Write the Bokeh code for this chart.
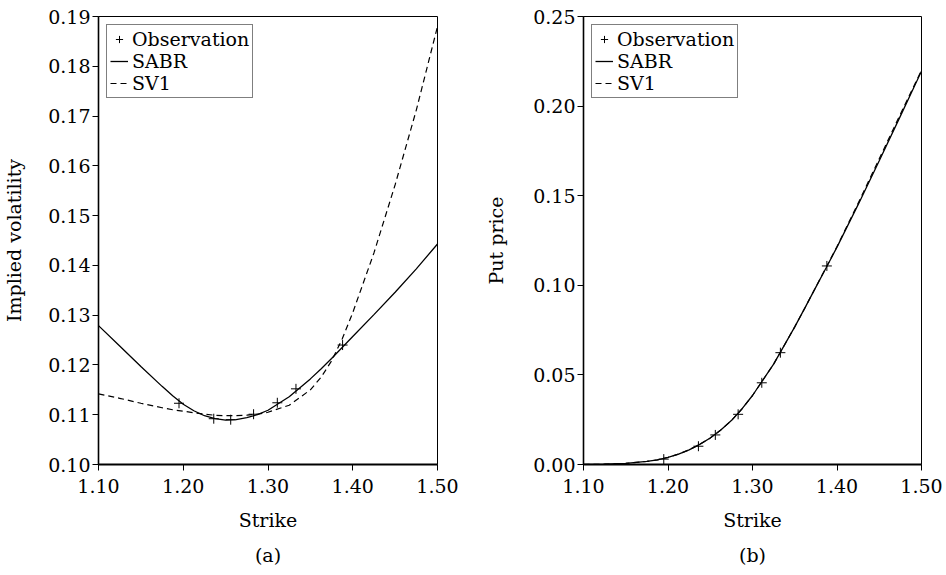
from bokeh.plotting import figure
from bokeh.layouts import row
from bokeh.models import Range1d, FixedTicker, NumeralTickFormatter, Title
from bokeh.embed import file_html
from bokeh.resources import INLINE

# ---- data ----
strike_grid = [1.100, 1.125, 1.150, 1.175, 1.1875, 1.200, 1.2125, 1.225, 1.2375, 1.250,
               1.2625, 1.275, 1.2875, 1.300, 1.325, 1.350, 1.3625, 1.375, 1.3875, 1.400,
               1.425, 1.450, 1.475, 1.500]
vol_sabr = [0.1279, 0.1238, 0.1197, 0.1157, 0.1138, 0.1121, 0.1108, 0.1098, 0.1092, 0.1089,
            0.1090, 0.1094, 0.1100, 0.1109, 0.1136, 0.1172, 0.1192, 0.1213, 0.1235, 0.1257,
            0.1301, 0.1346, 0.1393, 0.1443]
vol_sv1 = [0.1142, 0.1133, 0.1123, 0.1114, 0.1110, 0.1107, 0.1104, 0.1101, 0.1099, 0.1098,
           0.1098, 0.1099, 0.1101, 0.1105, 0.1119, 0.1150, 0.1175, 0.1208, 0.1252, 0.1305,
           0.1425, 0.1562, 0.1712, 0.1880]
put_sabr = [0.0000, 0.0002, 0.0006, 0.0017, 0.0026, 0.0040, 0.0058, 0.0082, 0.0112, 0.0148,
            0.0193, 0.0245, 0.0310, 0.0385, 0.0560, 0.0768, 0.0878, 0.0990, 0.1101, 0.1213,
            0.1450, 0.1695, 0.1944, 0.2195]
put_sv1 = [0.0000, 0.0002, 0.0006, 0.0017, 0.0026, 0.0040, 0.0058, 0.0082, 0.0112, 0.0148,
           0.0193, 0.0245, 0.0310, 0.0385, 0.0560, 0.0768, 0.0878, 0.0991, 0.1103, 0.1216,
           0.1458, 0.1706, 0.1955, 0.2200]
strike_obs = [1.195, 1.236, 1.256, 1.283, 1.311, 1.333, 1.388]
vol_obs = [0.1123, 0.1092, 0.1090, 0.1101, 0.1124, 0.1152, 0.1240]
put_obs = [0.0030, 0.0102, 0.0165, 0.0280, 0.0456, 0.0624, 0.1108]
x_ticks = [1.10, 1.20, 1.30, 1.40, 1.50]
vol_ticks = [0.10, 0.11, 0.12, 0.13, 0.14, 0.15, 0.16, 0.17, 0.18, 0.19]
put_ticks = [0.00, 0.05, 0.10, 0.15, 0.20, 0.25]

FONT = "DejaVu Serif"
FS = "19px"


def make(width, border_left, border_right, ylab_standoff, yr, yticks, ylab, sub,
         ys_model, ys_sv1, ys_obs):
    p = figure(width=width, height=573, output_backend="svg", toolbar_location=None,
               x_range=Range1d(1.10, 1.50), y_range=Range1d(*yr),
               min_border_left=border_left, min_border_right=border_right,
               min_border_top=16, min_border_bottom=109)
    p.grid.visible = False
    p.outline_line_color = "black"
    p.outline_line_width = 1
    p.background_fill_color = "white"
    p.border_fill_color = "white"

    p.scatter(strike_obs, ys_obs, marker="cross", size=10, line_color="black",
              line_width=1, legend_label="Observation")
    p.line(strike_grid, ys_model, line_color="black", line_width=1.3, legend_label="SABR")
    p.line(strike_grid, ys_sv1, line_color="black", line_width=1.2, line_dash="6 4",
           legend_label="SV1")

    p.xaxis.ticker = FixedTicker(ticks=x_ticks)
    p.yaxis.ticker = FixedTicker(ticks=yticks)
    p.xaxis.formatter = NumeralTickFormatter(format="0.00")
    p.yaxis.formatter = NumeralTickFormatter(format="0.00")
    for ax in (p.xaxis, p.yaxis):
        ax.minor_tick_line_color = None
        ax.major_tick_in = 0
        ax.major_tick_out = 6
        ax.major_tick_line_color = "black"
        ax.axis_line_color = "black"
        ax.major_label_text_font = FONT
        ax.major_label_text_font_size = FS
        ax.major_label_text_color = "black"
        ax.axis_label_text_font = FONT
        ax.axis_label_text_font_size = FS
        ax.axis_label_text_font_style = "normal"
        ax.axis_label_text_color = "black"
    p.xaxis.axis_line_width = 2.2
    p.yaxis.axis_line_width = 1.6
    p.xaxis.major_label_standoff = 8
    p.yaxis.major_label_standoff = 2
    p.xaxis.axis_label = "Strike"
    p.yaxis.axis_label = ylab
    p.xaxis.axis_label_standoff = 13
    p.yaxis.axis_label_standoff = ylab_standoff

    t = Title(text=sub, align="center", text_font=FONT, text_font_size=FS,
              text_font_style="normal", text_color="black", standoff=16)
    p.add_layout(t, "below")

    lg = p.legend[0]
    lg.location = "top_left"
    lg.margin = 8
    lg.padding = 3
    lg.spacing = 0
    lg.border_line_color = "black"
    lg.border_line_width = 1
    lg.background_fill_alpha = 1
    lg.label_text_font = FONT
    lg.label_text_font_size = FS
    lg.label_text_color = "black"
    lg.label_standoff = 4
    lg.glyph_width = 18
    lg.glyph_height = 20
    lg.label_height = 20
    return p


p1 = make(478, 98, 41, 20, (0.10, 0.19), vol_ticks, "Implied volatility", "(a)",
          vol_sabr, vol_sv1, vol_obs)
p2 = make(466, 105, 23, 23, (0.0, 0.25), put_ticks, "Put price", "(b)",
          put_sabr, put_sv1, put_obs)

layout = row(p1, p2)
open("out.html", "w").write(file_html(layout, INLINE))
